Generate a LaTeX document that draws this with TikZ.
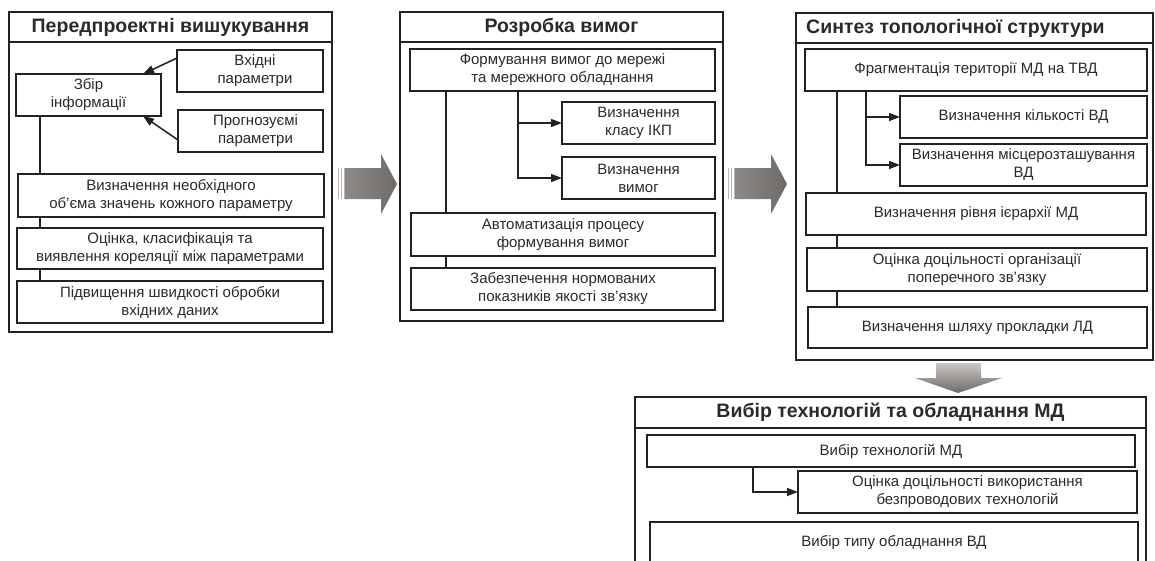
\documentclass[tikz,border=0pt]{standalone}
\usepackage{fontspec}
\setmainfont{Liberation Sans}
\usetikzlibrary{arrows.meta,calc}
\definecolor{linec}{HTML}{222222}
\definecolor{textc}{HTML}{2A2A2A}
\definecolor{arrdark}{HTML}{6E6A68}
\definecolor{arrmid}{HTML}{8E8A88}
\definecolor{arrlight}{HTML}{CBC7C4}
\definecolor{stripec}{HTML}{B8B5B3}
% rectangle node given by its corners: [style]{name}{x1}{y1}{x2}{y2}{text}
\newcommand\cornerbox[7][box]{%
  \pgfmathsetmacro\bw{#5-#3}\pgfmathsetmacro\bh{#6-#4}%
  \pgfmathsetmacro\bx{(#3+#5)/2}\pgfmathsetmacro\by{(#4+#6)/2}%
  \node[#1,minimum width=\bw pt,minimum height=\bh pt] (#2) at (\bx,\by) {#7};}
\begin{document}
\begin{tikzpicture}[x=1pt,y=-1pt,
  panel/.style={draw=linec,line width=2.2pt,inner sep=0pt,outer sep=0pt},
  box/.style={draw=linec,line width=1.8pt,fill=white,inner sep=0pt,outer sep=0pt,
    align=center,text=textc,font=\fontsize{15}{18}\selectfont},
  ttl/.style={panel,font=\fontsize{19.5}{22}\selectfont\bfseries,text=textc},
  conn/.style={draw=linec,line width=1.5pt},
  arr/.style={conn,-{Triangle[length=11pt,width=8pt]}},
  stripe/.style={draw=stripec,line width=0.9pt},
]
\useasboundingbox (0,0) rectangle (1155,560);
\clip (0,0) rectangle (1155,560);

% ---------- Panel 1: pre-design survey ----------
\cornerbox[ttl]{t1}{9}{12}{332}{42}{Передпроектні вишукування}
\cornerbox[panel]{p1}{9}{42}{332}{332}{}
\cornerbox{zbir}{16}{74}{161}{116}{Збір\\інформації}
\cornerbox{vkh}{177}{50}{323}{92}{\hspace*{10pt}Вхідні\\\hspace*{10pt}параметри}
\cornerbox{prog}{178}{110}{323}{152}{\hspace*{10pt}Прогнозуємі\\\hspace*{10pt}параметри}
\cornerbox{vyzn}{18}{174}{324}{217}{Визначення необхідного\\об'єма значень кожного параметру}
\cornerbox{otsin}{17}{228}{323}{269}{Оцінка, класифікація та\\виявлення кореляції між параметрами}
\cornerbox{pidv}{17}{281}{323}{323}{Підвищення швидкості обробки\\вхідних даних}
\coordinate (s1) at (40,0);
\draw[conn] (zbir.south -| s1) -- (vyzn.north -| s1);
\draw[conn] (vyzn.south -| s1) -- (otsin.north -| s1);
\draw[conn] (otsin.south -| s1) -- (pidv.north -| s1);
\draw[arr] ([yshift=-8pt]vkh.north west) -- ([xshift=-18pt]zbir.north east);
\draw[arr] ([yshift=12pt]prog.south west) -- ([xshift=-18pt]zbir.south east);

% ---------- Panel 2: requirements ----------
\cornerbox[ttl]{t2}{400}{12}{723}{42}{Розробка вимог}
\cornerbox[panel]{p2}{400}{42}{723}{321}{}
\cornerbox{form}{410}{49}{715}{91}{Формування вимог до мережі\\та мережного обладнання}
\cornerbox{klas}{562}{102}{715}{144}{Визначення\\класу ІКП}
\cornerbox{vym}{562}{157}{715}{199}{Визначення\\вимог}
\cornerbox{avto}{411}{213}{715}{256}{Автоматизація процесу\\формування вимог}
\cornerbox{zabez}{411}{268}{715}{310}{Забезпечення нормованих\\показників якості зв'язку}
\coordinate (s2) at (446,0);
\coordinate (b2) at (518,0);
\draw[conn] (form.south -| s2) -- (avto.north -| s2);
\draw[conn] (avto.south -| s2) -- (zabez.north -| s2);
\draw[arr] (form.south -| b2) |- (klas.west);
\draw[arr] (form.south -| b2) |- (vym.west);

% ---------- Panel 3: topology synthesis ----------
\cornerbox[panel]{t3}{796}{13}{1153}{43}{}
\node[font=\fontsize{19.5}{22}\selectfont\bfseries,text=textc,anchor=west,inner sep=0pt] (t3txt) at (806,28) {Синтез топологічної структури};
\cornerbox[panel]{p3}{796}{43}{1153}{360}{}
\cornerbox{frag}{805}{49}{1147}{91}{Фрагментація території МД на ТВД}
\cornerbox{kilk}{900}{96}{1147}{138}{Визначення кількості ВД}
\cornerbox{mists}{900}{144}{1147}{186}{Визначення місцерозташування\\ВД}
\cornerbox{riv}{806}{193}{1146}{235}{Визначення рівня ієрархії МД}
\cornerbox{ots}{807}{248}{1147}{291}{Оцінка доцільності організації\\поперечного зв'язку}
\cornerbox{shl}{808}{307}{1147}{348}{Визначення шляху прокладки ЛД}
\coordinate (s3) at (837,0);
\coordinate (b3) at (866,0);
\draw[conn] (frag.south -| s3) -- (riv.north -| s3);
\draw[conn] (riv.south -| s3) -- (ots.north -| s3);
\draw[conn] (ots.south -| s3) -- (shl.north -| s3);
\draw[arr] (frag.south -| b3) |- (kilk.west);
\draw[arr] (frag.south -| b3) |- (mists.west);

% ---------- Panel 4: technology and equipment ----------
\cornerbox[ttl]{t4}{635}{397}{1146}{428}{Вибір технологій та обладнання МД}
\cornerbox[panel]{p4}{635}{428}{1146}{580}{}
\cornerbox{tech}{647}{435}{1135}{467}{Вибір технологій МД}
\cornerbox{ots2}{798}{471}{1137}{513}{Оцінка доцільності використання\\безпроводових технологій}
\cornerbox{typ}{650}{522}{1138}{564}{Вибір типу обладнання ВД}
\coordinate (b4) at (753,0);
\draw[arr] (tech.south -| b4) |- (ots2.west);

% ---------- Block arrows between stages ----------
\foreach \x in {337,727}{
  \begin{scope}[shift={(\x,0)}]
    \draw[stripe] (1.5,168) -- (1.5,199);
    \draw[stripe] (4.5,168) -- (4.5,199);
    \draw[stripe] (7,168) -- (7,199);
    \shade[left color=arrmid,middle color=arrlight,right color=arrdark]
      (8,168) -- (44,168) -- (44,154) -- (60,184) -- (44,214) -- (44,199) -- (8,199) -- cycle;
  \end{scope}
}
\shade[top color=arrlight,bottom color=arrdark]
  (936,363) -- (981,363) -- (981,378) -- (1002,378) -- (958,393) -- (915,378) -- (936,378) -- cycle;
\end{tikzpicture}
\end{document}
